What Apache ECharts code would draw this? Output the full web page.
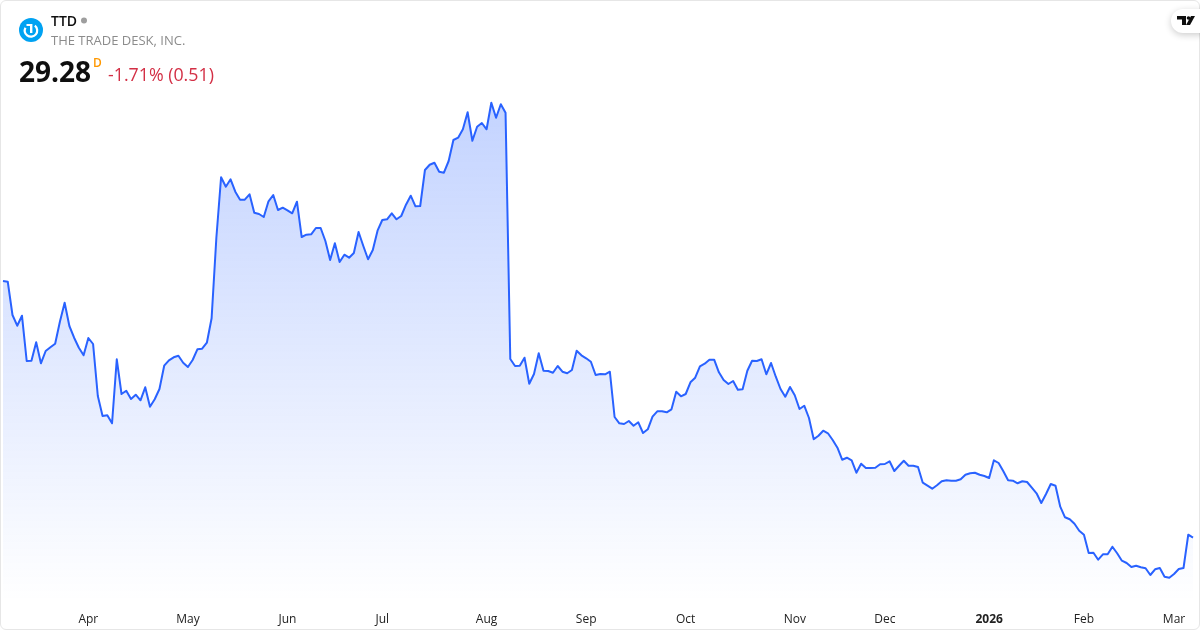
<!DOCTYPE html>
<html><head><meta charset="utf-8">
<style>html,body{margin:0;padding:0;background:#fff;overflow:hidden}
#frame{position:absolute;left:0;top:0;width:1198px;height:628px;border:1px solid #e6e6e6;border-radius:6px}
#c{position:absolute;left:0;top:0;width:1200px;height:630px}</style>
<script src="https://cdn.jsdelivr.net/npm/echarts@6/dist/echarts.min.js"></script>
</head><body><div id="frame"></div><div id="c"></div>
<script>
const ticker = 'TTD';
const companyName = 'THE TRADE DESK, INC.';
const lastPrice = '29.28';
const intervalMark = 'D';
const changeText = '-1.71% (0.51)';
const tickIndices = [18,39,60,80,102,123,144,167,186,208,228,247];
const tickLabels = ['Apr','May','Jun','Jul','Aug','Sep','Oct','Nov','Dec','2026','Feb','Mar'];
const prices = [
65.22,65.12,60.46,58.96,60.36,54.02,54.06,56.64,53.70,55.42,55.94,56.44,59.52,62.18,58.92,57.28,55.88,54.82,57.24,56.40,
49.12,46.32,46.42,45.30,54.26,49.40,49.86,48.70,49.30,48.52,50.34,47.62,48.66,50.10,53.36,54.12,54.54,54.76,53.78,53.18,
54.16,55.66,55.74,56.58,60.00,71.24,
79.74,78.42,79.46,77.72,76.60,76.60,77.36,74.78,74.60,74.18,76.38,77.26,75.16,75.48,75.12,74.70,76.32,71.38,71.70,71.76,
72.64,72.64,70.82,68.16,70.50,67.88,68.90,68.48,69.14,72.08,70.12,68.26,69.56,72.26,73.76,73.86,74.70,73.86,74.32,75.90,
77.16,75.68,75.72,80.76,81.50,81.78,80.52,80.38,82.02,
84.96,85.28,86.46,88.84,84.86,86.82,87.34,86.46,90.18,88.08,89.96,88.78,
54.30,53.32,53.36,54.48,50.84,52.20,55.10,52.66,52.62,52.38,53.32,52.52,52.30,52.76,55.46,54.82,54.40,53.92,52.06,52.20,
52.16,52.52,46.18,45.30,45.20,45.62,44.96,45.44,43.94,44.46,46.22,46.98,46.98,46.84,47.26,49.72,49.08,49.40,51.04,51.68,
53.28,53.64,54.20,54.20,52.44,51.36,50.80,51.22,50.00,50.06,52.66,54.06,54.02,54.26,52.16,53.74,51.82,50.10,49.02,50.38,
49.22,47.30,47.76,46.04,43.06,43.56,
44.26,43.90,42.96,41.88,40.20,40.48,40.12,38.38,39.64,39.04,39.04,39.08,39.56,39.60,39.98,38.62,39.36,40.06,39.36,39.36,
39.18,36.98,36.56,36.14,36.62,37.18,37.32,37.26,37.26,37.46,38.10,38.30,38.38,38.10,37.92,37.64,40.12,39.74,38.58,37.32,
37.26,36.90,37.18,37.08,36.28,35.50,34.14,35.40,36.80,36.56,33.62,32.14,31.86,
31.24,30.26,29.70,27.14,27.18,26.20,26.96,26.96,28.02,27.10,26.06,25.74,25.18,25.36,25.14,25.00,24.06,24.86,25.04,23.82,
23.68,24.20,24.90,25.04,29.70,29.28];
const categories = prices.map((_, i) => String(i));
const FONT = '"Open Sans","Noto Sans",sans-serif';

const chart = echarts.init(document.getElementById('c'), null, {renderer:'canvas'});
chart.setOption({
  animation:false,
  backgroundColor:'transparent',
  grid:{left:3,right:7,top:0,bottom:28,containLabel:false},
  xAxis:{type:'category',data:categories,boundaryGap:false,
    axisLine:{show:false},axisTick:{show:false},splitLine:{show:false},
    axisLabel:{margin:12,fontFamily:FONT,fontSize:12,color:'#222222',
      interval:(i)=>tickIndices.includes(i),
      formatter:(v,i)=>{const k=tickIndices.indexOf(+v);if(k<0)return '';const t=tickLabels[k];return /^\d+$/.test(t)?'{b|'+t+'}':t;},
      rich:{b:{fontFamily:FONT,fontSize:12,fontWeight:'bold',color:'#222222'}}}},
  yAxis:{type:'value',show:false,min:20.28,max:104.56,splitLine:{show:false}},
  series:[{type:'line',data:prices,symbol:'none',smooth:false,
    lineStyle:{color:'#2962FF',width:2,join:'round'},
    areaStyle:{opacity:1,color:new echarts.graphic.LinearGradient(0,0,0,1,[{offset:0,color:'rgba(41,98,255,0.28)'},{offset:1,color:'rgba(41,98,255,0)'}])}}],
  graphic:[
    {type:'circle',shape:{cx:31,cy:30,r:12},style:{fill:'#00A2F2'}},
    {type:'arc',shape:{cx:31,cy:30.5,r:6.2,startAngle:-0.9,endAngle:3.6,clockwise:true},style:{stroke:'#fff',lineWidth:2.2,fill:null}},
    {type:'rect',shape:{x:30,y:24,width:2.4,height:9},style:{fill:'#fff'}},
    {type:'rect',shape:{x:26.5,y:24,width:4,height:2},style:{fill:'#fff'}},
    {type:'text',x:51,y:15,style:{text:ticker,fontFamily:FONT,fontSize:14,fontWeight:600,fill:'#0f0f0f'}},
    {type:'circle',shape:{cx:84,cy:20.5,r:3},style:{fill:'#9e9e9e'}},
    {type:'text',x:51,y:34.5,style:{text:companyName,fontFamily:FONT,fontSize:13,fill:'#8c8c8c',letterSpacing:0.8}},
    {type:'text',x:19,y:60.5,style:{text:lastPrice,fontFamily:FONT,fontSize:28,fontWeight:700,fill:'#0f0f0f'}},
    {type:'text',x:93,y:57.5,style:{text:intervalMark,fontFamily:FONT,fontSize:12,fontWeight:600,fill:'#ff9800'}},
    {type:'text',x:108,y:66.5,style:{text:changeText,fontFamily:FONT,fontSize:17.8,fill:'#d32f45'}},
    {type:'rect',shape:{x:1171,y:9,width:40,height:24,r:12},style:{fill:'#fff',shadowBlur:7,shadowColor:'rgba(0,0,0,0.2)',shadowOffsetY:2}},
    {type:'polygon',shape:{points:[[1177,16],[1186,16],[1186,25],[1182,25],[1182,19.5],[1177,19.5]]},style:{fill:'#0f0f0f'}},
    {type:'circle',shape:{cx:1188.5,cy:18,r:1.8},style:{fill:'#0f0f0f'}},
    {type:'polygon',shape:{points:[[1191,16],[1195,16],[1190,25],[1186,25]]},style:{fill:'#0f0f0f'}}
  ]
});
</script></body></html>
